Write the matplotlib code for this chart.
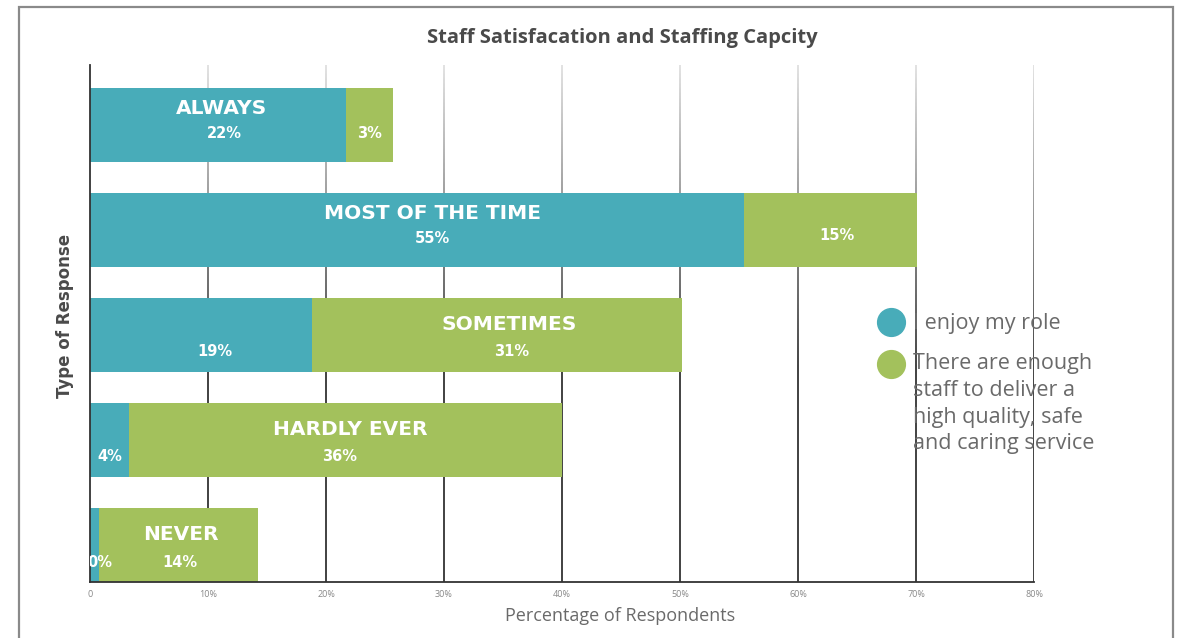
import numpy as np
import matplotlib
matplotlib.use("Agg")
import matplotlib.pyplot as plt
from matplotlib.patches import Rectangle
from matplotlib.lines import Line2D

# data
categories = ["ALWAYS", "MOST OF THE TIME", "SOMETIMES", "HARDLY EVER", "NEVER"]
enjoy_role = [21.7, 55.4, 18.8, 3.3, 0.8]
enough_staff = [4.0, 14.7, 31.4, 36.7, 13.4]
enjoy_labels = ["22%", "55%", "19%", "4%", "0%"]
staff_labels = ["3%", "15%", "31%", "36%", "14%"]
name_on = ["enjoy", "enjoy", "staff", "staff", "staff"]  # which segment carries the name
series_names = ["I enjoy my role",
                "There are enough\nstaff to deliver a\nhigh quality, safe\nand caring service"]
ticks = [0, 10, 20, 30, 40, 50, 60, 70, 80]
tick_labels = ["0", "10%", "20%", "30%", "40%", "50%", "60%", "70%", "80%"]

# small nudges of the in-bar text, in % units
name_dx = [0.3, 1.3, 1.0, 0.4, 0.2]
enjoy_dx = [0.5, 1.3, 1.2, 0.0, 0.4]
staff_dx = [0.0, 0.55, 1.26, -0.46, 0.13]

teal = "#48acb9"
green = "#a3c15c"
grey_text = "#6a6a6a"
dark_text = "#4a4a4a"

plt.rcParams['font.family'] = ['Open Sans', 'DejaVu Sans']
bold_font = ['DejaVu Sans']

W, H = 1184, 638
fig = plt.figure(figsize=(W / 100, H / 100), dpi=100)
fig.patch.set_facecolor("white")
fig.patches.append(Rectangle((19 / W, -0.05), 1154 / W, 1.05 - 7 / H,
                             transform=fig.transFigure, fill=False,
                             edgecolor="#8a8a8a", lw=1.6))

ax = fig.add_axes([90 / W, 56 / H, 944 / W, 517 / H])

y = np.arange(len(categories))
h = 0.70
ax.barh(y, enjoy_role, height=h, color=teal, zorder=3)
ax.barh(y, enough_staff, left=enjoy_role, height=h, color=green, zorder=3)

ylim = (len(categories) - 1 + h / 2, -0.57)

# gridlines, fading toward the top
ax.vlines(ticks[1:], *ylim, color="#333333", lw=1.3, zorder=1)
grad = np.ones((256, 2, 4))
grad[:, :, 3] = np.clip(np.linspace(0.85, -0.6, 256), 0, 1)[:, None]
ax.imshow(grad, extent=[0, 1, 0, 1], transform=ax.transAxes, aspect="auto",
          zorder=2, origin="upper")
ax.set_xlim(0, 80)
ax.set_ylim(*ylim)

for sp in ["top", "right"]:
    ax.spines[sp].set_visible(False)
for sp in ["left", "bottom"]:
    ax.spines[sp].set_color("#333333")
    ax.spines[sp].set_linewidth(1.3)
    ax.spines[sp].set_zorder(4)

ax.set_yticks([])
ax.set_xticks(ticks)
ax.set_xticklabels(tick_labels, fontsize=6.5, color="#888888")
ax.tick_params(axis="x", length=0, pad=6)

# labels in the bars
name_kw = dict(ha="center", va="center", color="white", fontsize=14.5,
               fontweight="bold", family=bold_font, zorder=5)
pct_kw = dict(ha="center", va="center", color="white", fontsize=10.5,
              fontweight="bold", family=bold_font, zorder=5, clip_on=True)
for i, cat in enumerate(categories):
    a, b = enjoy_role[i], enough_staff[i]
    ca = a / 2
    cb = a + b / 2
    if name_on[i] == "enjoy":
        ax.text(ca + name_dx[i], i - 0.16, cat, **name_kw)
        ax.text(ca + enjoy_dx[i], i + 0.08, enjoy_labels[i], **pct_kw)
        ax.text(cb + staff_dx[i], i + (0.08 if b < 6 else 0.05), staff_labels[i], **pct_kw)
    else:
        ax.text(cb + name_dx[i], i - 0.10, cat, **name_kw)
        ax.text(cb + staff_dx[i], i + 0.16, staff_labels[i], **pct_kw)
        ax.text(ca + enjoy_dx[i], i + 0.16, enjoy_labels[i], **pct_kw)

ax.set_xlabel("Percentage of Respondents", fontsize=13, color=grey_text)
ax.xaxis.set_label_coords((620 - 90) / 944, (582 - 616) / 517)
ax.xaxis.label.set_va("center")
ax.set_ylabel("Type of Response", fontsize=12, fontweight="bold", color=dark_text,
              family=bold_font)
ax.yaxis.set_label_coords(-(90 - 65) / 944, (582 - 316) / 517)
ax.yaxis.label.set_va("center")
fig.text(622 / W, 1 - 38 / H, "Staff Satisfacation and Staffing Capcity",
         ha="center", va="center", fontsize=14.5, fontweight="bold", color=dark_text)

# legend
fig.add_artist(Line2D([891 / W], [1 - 322 / H], marker="o", markersize=20,
                      color=teal, linestyle="none", transform=fig.transFigure))
fig.add_artist(Line2D([891 / W], [1 - 364 / H], marker="o", markersize=20,
                      color=green, linestyle="none", transform=fig.transFigure))
fig.text(913 / W, 1 - 323 / H, series_names[0], ha="left", va="center",
         fontsize=15.5, color=grey_text)
fig.text(913 / W, 1 - 353 / H, series_names[1], ha="left", va="top",
         fontsize=15.5, color=grey_text, linespacing=1.36)

fig.savefig("out.png", dpi=100)
